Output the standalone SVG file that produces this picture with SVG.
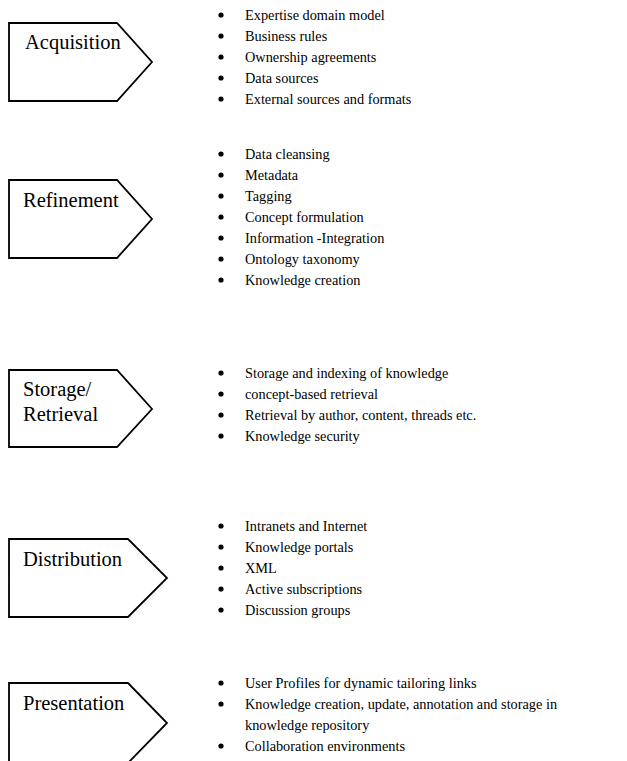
<svg xmlns="http://www.w3.org/2000/svg" width="627" height="761" viewBox="0 0 627 761">
  <style>
    .stage { fill: #ffffff; stroke: #000000; stroke-width: 1.8; stroke-linejoin: miter; }
    .dot { fill: #000000; }
  </style>
  <defs>
    <circle id="bullet" r="2.6" class="dot"/>
  </defs>
  <rect width="627" height="761" fill="#ffffff"/>

  <!-- Stage 1 -->
  <g id="acquisition" font-family="'Liberation Serif', 'Times New Roman', serif" font-size="20.5" fill="#000">
    <path class="stage" d="M9,23 H117 L152,62 L117,101 H9 Z"/>
    <text x="25" y="49">Acquisition</text>
  </g>
  <g id="acquisition-items" font-family="'Liberation Serif', 'Times New Roman', serif" font-size="14.3" fill="#000">
    <use href="#bullet" x="221" y="15"/><text x="245" y="20">Expertise domain model</text>
    <use href="#bullet" x="221" y="36"/><text x="245" y="41">Business rules</text>
    <use href="#bullet" x="221" y="57"/><text x="245" y="62">Ownership agreements</text>
    <use href="#bullet" x="221" y="78"/><text x="245" y="83">Data sources</text>
    <use href="#bullet" x="221" y="99"/><text x="245" y="104">External sources and formats</text>
  </g>

  <!-- Stage 2 -->
  <g id="refinement" font-family="'Liberation Serif', 'Times New Roman', serif" font-size="20.5" fill="#000">
    <path class="stage" d="M9,180 H117 L152,219 L117,258 H9 Z"/>
    <text x="23" y="207">Refinement</text>
  </g>
  <g id="refinement-items" font-family="'Liberation Serif', 'Times New Roman', serif" font-size="14.3" fill="#000">
    <use href="#bullet" x="221" y="154"/><text x="245" y="159">Data cleansing</text>
    <use href="#bullet" x="221" y="175"/><text x="245" y="180">Metadata</text>
    <use href="#bullet" x="221" y="196"/><text x="245" y="201">Tagging</text>
    <use href="#bullet" x="221" y="217"/><text x="245" y="222">Concept formulation</text>
    <use href="#bullet" x="221" y="238"/><text x="245" y="243">Information -Integration</text>
    <use href="#bullet" x="221" y="259"/><text x="245" y="264">Ontology taxonomy</text>
    <use href="#bullet" x="221" y="280"/><text x="245" y="285">Knowledge creation</text>
  </g>

  <!-- Stage 3 -->
  <g id="storage-retrieval" font-family="'Liberation Serif', 'Times New Roman', serif" font-size="20.5" fill="#000">
    <path class="stage" d="M9,370 H117 L152,409 L117,447 H9 Z"/>
    <text x="23" y="396">Storage/</text>
    <text x="23" y="421">Retrieval</text>
  </g>
  <g id="storage-items" font-family="'Liberation Serif', 'Times New Roman', serif" font-size="14.3" fill="#000">
    <use href="#bullet" x="221" y="373"/><text x="245" y="378">Storage and indexing of knowledge</text>
    <use href="#bullet" x="221" y="394"/><text x="245" y="399">concept-based retrieval</text>
    <use href="#bullet" x="221" y="415"/><text x="245" y="420">Retrieval by author, content, threads etc.</text>
    <use href="#bullet" x="221" y="436"/><text x="245" y="441">Knowledge security</text>
  </g>

  <!-- Stage 4 -->
  <g id="distribution" font-family="'Liberation Serif', 'Times New Roman', serif" font-size="20.5" fill="#000">
    <path class="stage" d="M9,539 H128 L167,578 L128,617 H9 Z"/>
    <text x="23" y="566">Distribution</text>
  </g>
  <g id="distribution-items" font-family="'Liberation Serif', 'Times New Roman', serif" font-size="14.3" fill="#000">
    <use href="#bullet" x="221" y="526"/><text x="245" y="531">Intranets and Internet</text>
    <use href="#bullet" x="221" y="547"/><text x="245" y="552">Knowledge portals</text>
    <use href="#bullet" x="221" y="568"/><text x="245" y="573">XML</text>
    <use href="#bullet" x="221" y="589"/><text x="245" y="594">Active subscriptions</text>
    <use href="#bullet" x="221" y="610"/><text x="245" y="615">Discussion groups</text>
  </g>

  <!-- Stage 5 -->
  <g id="presentation" font-family="'Liberation Serif', 'Times New Roman', serif" font-size="20.5" fill="#000">
    <path class="stage" d="M9,683 H128 L167,723 L128,763 H9 Z"/>
    <text x="23" y="710">Presentation</text>
  </g>
  <g id="presentation-items" font-family="'Liberation Serif', 'Times New Roman', serif" font-size="14.3" fill="#000">
    <use href="#bullet" x="221" y="683"/><text x="245" y="688">User Profiles for dynamic tailoring links</text>
    <use href="#bullet" x="221" y="704"/><text x="245" y="709">Knowledge creation, update, annotation and storage in</text>
    <text x="245" y="730">knowledge repository</text>
    <use href="#bullet" x="221" y="746"/><text x="245" y="751">Collaboration environments</text>
  </g>
</svg>
